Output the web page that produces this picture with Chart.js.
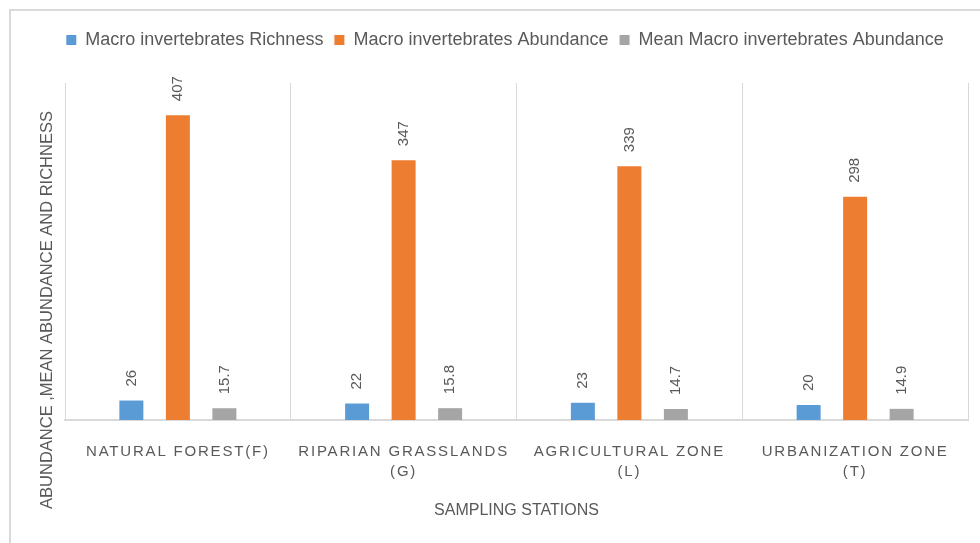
<!DOCTYPE html>
<html>
<head>
<meta charset="utf-8">
<script src="https://cdn.jsdelivr.net/npm/chart.js@4.4.1/dist/chart.umd.min.js"></script>
<style>
  html, body { margin: 0; padding: 0; background: #fff; }
  #wrap { width: 980px; height: 543px; }
</style>
</head>
<body>
<div id="wrap"><canvas id="stations-bar-chart" width="980" height="543"></canvas></div>
<script>
// chart data
const stations = [['NATURAL FOREST(F)'], ['RIPARIAN GRASSLANDS', '(G)'], ['AGRICULTURAL ZONE', '(L)'], ['URBANIZATION ZONE', '(T)']];
const richness = [26, 22, 23, 20];
const abundance = [407, 347, 339, 298];
const mean_abundance = [15.7, 15.8, 14.7, 14.9];
const series_names = ['Macro invertebrates Richness', 'Macro invertebrates Abundance', 'Mean Macro invertebrates Abundance'];
const y_title = 'ABUNDANCE ,MEAN ABUNDANCE AND RICHNESS';
const x_title = 'SAMPLING STATIONS';

const font_family = "'Liberation Sans', Arial, sans-serif";
const text_color = '#595959';

// outer frame, y title, value labels, spaced x labels
let extras = {
    id: 'extras',
    afterInit(chart) {
        // leave room between legend and plot like the excel chart
        let legend = chart.legend;
        let fit = legend.fit;
        legend.fit = function () {
            fit.call(this);
            this.height += 24;
        };
    },
    beforeDraw(chart) {
        let ctx = chart.ctx;
        ctx.save();
        ctx.strokeStyle = '#d9d9d9';
        ctx.lineWidth = 2;
        ctx.strokeRect(10, 10, 1200, 800);
        ctx.restore();

        let xs = chart.scales.x;
        if (!xs._spaced) {
            let draw_labels = xs.drawLabels;
            xs.drawLabels = function (area) {
                this.ctx.save();
                this.ctx.letterSpacing = '1.8px';
                draw_labels.call(this, area);
                this.ctx.restore();
            };
            xs._spaced = true;
        }
    },
    afterDatasetsDraw(chart) {
        let ctx = chart.ctx;
        ctx.save();
        ctx.fillStyle = text_color;
        ctx.font = '15px ' + font_family;
        ctx.textAlign = 'left';
        ctx.textBaseline = 'middle';
        chart.data.datasets.forEach((ds, i) => {
            chart.getDatasetMeta(i).data.forEach((bar, j) => {
                ctx.save();
                ctx.translate(bar.x, bar.y - 14);
                ctx.rotate(-Math.PI / 2);
                ctx.fillText(String(ds.data[j]), 0, 0);
                ctx.restore();
            });
        });
        ctx.restore();
    },
    afterDraw(chart) {
        let ctx = chart.ctx;
        ctx.save();
        ctx.fillStyle = text_color;
        ctx.font = '16.5px ' + font_family;
        ctx.textAlign = 'center';
        ctx.textBaseline = 'middle';
        ctx.translate(47, 310);
        ctx.rotate(-Math.PI / 2);
        ctx.fillText(y_title, 0, 0);
        ctx.restore();
    }
};

let stations_chart = new Chart(document.getElementById('stations-bar-chart').getContext('2d'), {
    type: 'bar',
    data: {
        labels: stations,
        datasets: [
            { label: series_names[0], data: richness, backgroundColor: '#5B9BD5' },
            { label: series_names[1], data: abundance, backgroundColor: '#ED7D31' },
            { label: series_names[2], data: mean_abundance, backgroundColor: '#A5A5A5' }
        ]
    },
    options: {
        responsive: false,
        animation: false,
        categoryPercentage: 0.618,
        barPercentage: 0.516,
        layout: { padding: { left: 42, right: 12, top: 20, bottom: 0 } },
        plugins: {
            legend: {
                position: 'top',
                labels: {
                    boxWidth: 10,
                    boxHeight: 10,
                    padding: 11,
                    color: text_color,
                    font: { family: font_family, size: 18 }
                }
            },
            tooltip: { enabled: false }
        },
        scales: {
            x: {
                grid: { color: '#d9d9d9', lineWidth: 1, drawTicks: false, offset: true },
                border: { color: '#d9d9d9', width: 2 },
                ticks: {
                    color: text_color,
                    padding: 22,
                    maxRotation: 0,
                    autoSkip: false,
                    font: { family: font_family, size: 15, lineHeight: '20px' }
                },
                title: {
                    display: true,
                    text: x_title,
                    color: text_color,
                    padding: { top: 0, bottom: 23 },
                    font: { family: font_family, size: 16 }
                },
                afterFit(scale) { scale.height = 123; }
            },
            y: {
                min: 0,
                max: 450,
                grid: { display: false },
                border: { display: false },
                ticks: { display: false },
                afterFit(scale) { scale.width = 23; }
            }
        }
    },
    plugins: [extras]
});
</script>
</body>
</html>
